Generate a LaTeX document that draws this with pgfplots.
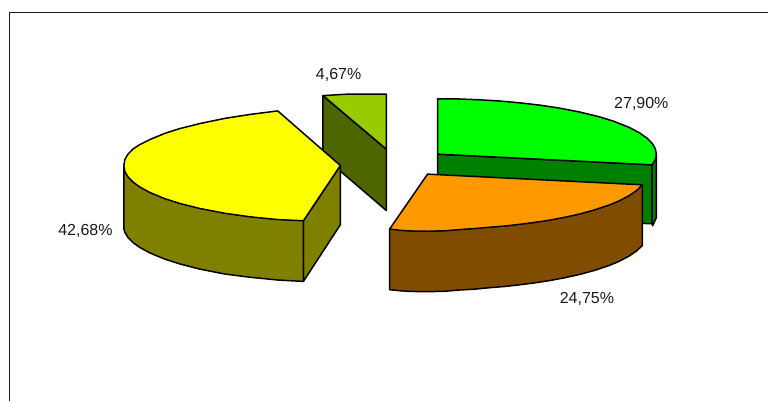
\documentclass[border=0pt]{standalone}
\usepackage{fontspec}
\setmainfont{Liberation Sans}
\usepackage{pgfplots}
\pgfplotsset{compat=1.18}
\definecolor{yel}{RGB}{255,255,0}
\definecolor{yeld}{RGB}{128,128,0}
\definecolor{lim}{RGB}{153,204,0}
\definecolor{limd}{RGB}{77,102,0}
\definecolor{grn}{RGB}{0,255,0}
\definecolor{grnd}{RGB}{0,128,0}
\definecolor{org}{RGB}{255,153,0}
\definecolor{orgd}{RGB}{128,77,0}
\begin{document}
\begin{tikzpicture}
\begin{axis}[
  width=769pt,height=401pt,scale only axis,
  xmin=0,xmax=769,ymin=0,ymax=401,y dir=reverse,
  axis lines=none,clip=false,
  every axis plot/.append style={line width=1.5pt,line join=round,mark=none},
]
% page extent
\addplot[draw=none,line width=0pt] coordinates {(0,0)(769,401)};
% frame
\addplot[color=black!90,line width=1.6pt,line join=miter] coordinates {(9.5,401)(9.5,12.5)(769,12.5)};
% small wedge
\addplot[draw=black,fill=limd] coordinates {(323.3,95.7)(386.7,149.3)(386.7,210.7)(323.3,156.4)} --cycle;
\addplot[draw=black,fill=lim] coordinates {(323.3,95.7)(346.7,94.3)(386.7,94.3)(386.7,149.3)} --cycle;
% green
\addplot[draw=black,fill=grnd] coordinates {(438,154.3)(652.7,165)(652.7,224)(438,215)} --cycle;
\addplot[draw=black,fill=grnd] coordinates {(652.7,165)(656,159.6)(657,154.3)(657,218)(653.3,226)(652.7,224)} --cycle;
\addplot[draw=black,fill=grn] coordinates {(438,99)(460,99.1)(480,99.9)(500,101.1)(520,102.9)(540,105.2)(560,108.2)(580,112.1)(600,116.9)(615,121.6)(630,127.6)(640,132.9)(648,138.5)(653,143.8)(656,149)(657,154.3)(656,159.6)(652.7,165)(438,154.3)} --cycle;
% orange
\addplot[draw=black,fill=orgd] coordinates {(390,229.3)(390,290)(400,291)(410,291.7)(428,292)(446,291.5)(460,290.3)(475,289.5)(490,288)(505,286.8)(520,285.1)(535,283.2)(550,280.9)(565,278.1)(580,274.8)(595,270.7)(610,265.7)(620,261.5)(630,256.2)(637,251.4)(643,245.8)(643,185)} --cycle;
\addplot[draw=black,fill=org] coordinates {(428,174.3)(643,185)(637,190.9)(630,195.7)(620,201)(610,205.2)(595,210.2)(580,214.3)(565,217.6)(550,220.4)(535,222.7)(520,224.6)(505,226.3)(490,227.5)(475,228.8)(460,229.8)(446,231)(428,231.5)(410,231.2)(400,230.5)(390,229.3)} --cycle;
% yellow
\addplot[draw=black,fill=yeld] coordinates {(303.7,221)(340.7,165.7)(340.7,225)(303.7,281.7)} --cycle;
\addplot[draw=black,fill=yeld] coordinates {(124,165.7)(124,229)(125,232.4)(128,237.6)(133,242.8)(140,247.7)(150,253.2)(165,259.4)(180,264.2)(200,269.4)(225,274.3)(250,277.5)(278,280.3)(303.7,281.7)(303.7,221)} --cycle;
\addplot[draw=black,fill=yel] coordinates {(278,111)(250,114.6)(225,118.5)(200,123.7)(180,128.7)(165,133.5)(150,139.7)(140,144.7)(133,149.3)(128,154.5)(125,159.5)(124,165.7)(125,171.9)(128,176.9)(133,182.1)(140,187.2)(150,192.7)(165,198.9)(180,203.7)(200,208.7)(225,213.5)(250,217)(278,219.8)(303.7,221)(340.7,165.7)} --cycle;
% labels
\node[font=\fontsize{16}{18}\selectfont,text=black!90] at (axis cs:339,75) {4,67\%};
\node[font=\fontsize{16}{18}\selectfont,text=black!90] at (axis cs:642,104) {27,90\%};
\node[font=\fontsize{16}{18}\selectfont,text=black!90] at (axis cs:85.5,231) {42,68\%};
\node[font=\fontsize{16}{18}\selectfont,text=black!90] at (axis cs:587.5,299) {24,75\%};
\end{axis}
\end{tikzpicture}
\end{document}
